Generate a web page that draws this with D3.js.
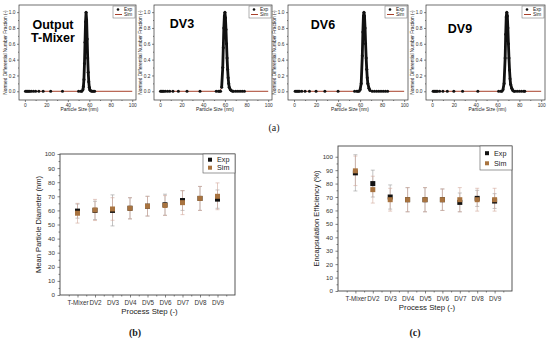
<!DOCTYPE html>
<html>
<head>
<meta charset="utf-8">
<script src="https://cdn.jsdelivr.net/npm/d3@7"></script>
<style>
  body { margin: 0; background: #fff; }
  text { font-family: "Liberation Sans", Arial, sans-serif; fill: #222; }
</style>
</head>
<body>
<svg id="fig" width="550" height="343"></svg>
<script>
// ---- DATA ----
// (a) size distributions, normed differential number fraction
var tmixExpX = [0.5,1.5,2.5,3.5,4.5,6,8,10,13,17,24,35,50,52,53,54,54.5,55,55.5,56,56.5,57,57.5,58,58.5,59,59.5,60,60.5,61,62,63,64,65];
var tmixExpY = [0,0,0,0,0,0,0,0,0,0,0,0,0,0,0,0.02,0.06,0.15,0.35,0.62,0.88,1.0,0.9,0.66,0.42,0.24,0.12,0.05,0.02,0.01,0,0,0,0];
var tmixSimX = [0,50,53,54,55,56,57,58,59,60,61,62,65,100];
var tmixSimY = [0,0,0,0.02,0.15,0.6,1.0,0.68,0.25,0.06,0.01,0,0,0];

var dv3ExpX = [0.5,1.5,2.5,3.5,5,7,9,12,17,25,37,52,54,55,56,57,58,58.5,59,59.5,60,60.5,61,61.5,62,62.5,63,63.5,64,65,66,67,68,70,72,74,76,78];
var dv3ExpY = [0,0,0,0,0,0,0,0,0,0,0,0,0,0,0,0.05,0.3,0.55,0.8,0.95,1.0,0.93,0.78,0.6,0.42,0.28,0.17,0.1,0.05,0.02,0.01,0,0,0,0,0,0,0];
var dv3SimX = [0,55,57,58,59,60,61,62,63,64,65,66,68,100];
var dv3SimY = [0,0,0.04,0.3,0.8,1.0,0.8,0.44,0.18,0.06,0.02,0.01,0,0];

var dv6ExpX = [1,2,3,4,5,7,10,14,20,28,40,55,57,58,59,60,61,62,62.5,63,63.5,64,64.5,65,65.5,66,66.5,67,68,69,71,73,75,77,79,81,83,85];
var dv6ExpY = [0,0,0,0,0,0,0,0,0,0,0,0,0,0,0,0.02,0.1,0.45,0.75,0.95,1.0,0.95,0.8,0.6,0.42,0.28,0.17,0.1,0.04,0.01,0,0,0,0,0,0,0,0];
var dv6SimX = [0,58,60,61,62,63,63.5,64,65,66,67,68,70,100];
var dv6SimY = [0,0,0.02,0.12,0.48,0.95,1.0,0.94,0.6,0.3,0.11,0.04,0,0];

var dv9ExpX = [1,2,3,4,5,7,10,14,20,28,42,61,63,64,65,66,67,67.5,68,68.5,69,69.5,70,70.5,71,71.5,72,73,74,75,76,78,80,82,84,85];
var dv9ExpY = [0,0,0,0,0,0,0,0,0,0,0,0,0,0,0.02,0.1,0.42,0.72,0.94,1.0,0.95,0.8,0.6,0.42,0.27,0.16,0.09,0.04,0.01,0,0,0,0,0,0,0];
var dv9SimX = [0,63,65,66,67,68,68.5,69,70,71,72,73,75,100];
var dv9SimY = [0,0,0.02,0.12,0.46,0.94,1.0,0.94,0.6,0.3,0.12,0.04,0,0];

// (b), (c) process steps
var steps = ["T-Mixer","DV2","DV3","DV4","DV5","DV6","DV7","DV8","DV9"];
var diamExp    = [59.5, 60, 60, 61.5, 63, 64, 67, 68.5, 68];
var diamExpErr = [5, 6.5, 11, 7.5, 7, 7.5, 7, 8.5, 6.5];
var diamSim    = [58, 60.3, 61, 61.5, 63, 63.5, 65.5, 68.5, 70];
var diamSimErr = [7, 7.5, 8, 7.5, 7, 7, 8.5, 8.5, 9.5];

var encExp    = [88, 80, 70, 68, 68, 68, 66, 69, 67];
var encExpErr = [13.5, 10, 9, 9, 9, 8, 7, 6, 5.5];
var encSim    = [89.5, 75.5, 68, 68, 68, 68, 68, 68, 68];
var encSimErr = [11, 10, 8.5, 9, 9, 8, 9, 8.5, 8.5];

var simLineColor = "#a8402a";
var simMarkColor = "#a8733f";

var svg = d3.select("#fig");

function zip(xs, ys) { return xs.map(function(x, i) { return {x: x, y: ys[i]}; }); }

// ---- top row: distributions ----
function drawDist(o) {
  var g = svg.append("g");
  var x = d3.scaleLinear().domain([-5.5, 103.5]).range([o.left, o.right]);
  var y = d3.scaleLinear().domain([-0.11, 1.09]).range([o.bottom, o.top]);

  g.append("g").attr("transform", "translate(0," + o.bottom + ")")
    .call(d3.axisBottom(x).tickValues(d3.range(0, 101, 20)).tickSize(2).tickPadding(1.5))
    .call(styleAxis, 4.8);
  g.append("g").attr("transform", "translate(0," + o.bottom + ")")
    .call(d3.axisBottom(x).tickValues(d3.range(10, 100, 20)).tickSize(1).tickFormat(""))
    .call(styleAxis, 4.8);
  g.append("g").attr("transform", "translate(" + o.left + ",0)")
    .call(d3.axisLeft(y).tickValues(d3.range(0, 1.01, 0.2)).tickSize(2).tickPadding(1.5).tickFormat(d3.format(".1f")))
    .call(styleAxis, 4.8);
  g.append("g").attr("transform", "translate(" + o.left + ",0)")
    .call(d3.axisLeft(y).tickValues(d3.range(0.1, 1, 0.2)).tickSize(1).tickFormat(""))
    .call(styleAxis, 4.8);
  g.append("rect").attr("x", o.left).attr("y", o.top)
    .attr("width", o.right - o.left).attr("height", o.bottom - o.top)
    .attr("fill", "none").attr("stroke", "#333").attr("stroke-width", 0.7);

  g.append("text").attr("x", (o.left + o.right) / 2 + 2).attr("y", o.bottom + 11)
    .attr("text-anchor", "middle").attr("font-size", 4.8).text("Particle Size (nm)");
  g.append("text").attr("transform", "translate(" + (o.left - 12.5) + "," + ((o.top + o.bottom) / 2) + ") rotate(-90)")
    .attr("text-anchor", "middle").attr("font-size", 4.8).text("Normed Differential Number Fraction (-)");

  var sim = zip(o.simX, o.simY);
  var exp = zip(o.expX, o.expY);
  var line = d3.line().x(function(d) { return x(d.x); }).y(function(d) { return y(d.y); });

  g.append("path").datum(sim).attr("d", line)
    .attr("fill", "none").attr("stroke", simLineColor).attr("stroke-width", 1);
  g.append("path").datum(exp).attr("d", line.defined(function(d) { return d.y > 0; }))
    .attr("fill", "none").attr("stroke", "#111").attr("stroke-width", 2.8);
  g.selectAll(".dot").data(exp).enter().append("circle")
    .attr("cx", function(d) { return x(d.x); })
    .attr("cy", function(d) { return y(d.y); })
    .attr("r", 1.5).attr("fill", "#111");

  // legend
  var lx = o.right - 23, ly = o.top + 1;
  g.append("rect").attr("x", lx).attr("y", ly).attr("width", 22).attr("height", 12)
    .attr("fill", "#fff").attr("stroke", "#666").attr("stroke-width", 0.5);
  g.append("circle").attr("cx", lx + 5).attr("cy", ly + 3.5).attr("r", 1.3).attr("fill", "#111");
  g.append("line").attr("x1", lx + 2).attr("x2", lx + 9).attr("y1", ly + 8.5).attr("y2", ly + 8.5)
    .attr("stroke", simLineColor).attr("stroke-width", 1);
  g.append("text").attr("x", lx + 11).attr("y", ly + 5.2).attr("font-size", 4.8).text("Exp");
  g.append("text").attr("x", lx + 11).attr("y", ly + 10.2).attr("font-size", 4.8).text("Sim");

  o.title.forEach(function(t, i) {
    g.append("text").attr("x", o.tx).attr("y", o.ty + i * 13)
      .attr("text-anchor", "middle").attr("font-size", 12.5).attr("font-weight", "bold")
      .style("fill", "#000").text(t);
  });
}

function styleAxis(sel, fs) {
  sel.select(".domain").remove();
  sel.selectAll("line").attr("stroke", "#333").attr("stroke-width", 0.6);
  sel.selectAll("text").attr("font-size", fs).style("fill", "#333");
}

drawDist({left: 19, right: 136, top: 5, bottom: 100, title: ["Output", "T-Mixer"], tx: 53, ty: 29,
  expX: tmixExpX, expY: tmixExpY, simX: tmixSimX, simY: tmixSimY});
drawDist({left: 154, right: 272, top: 5, bottom: 100, title: ["DV3"], tx: 182, ty: 28,
  expX: dv3ExpX, expY: dv3ExpY, simX: dv3SimX, simY: dv3SimY});
drawDist({left: 288, right: 408, top: 5, bottom: 100, title: ["DV6"], tx: 323, ty: 29,
  expX: dv6ExpX, expY: dv6ExpY, simX: dv6SimX, simY: dv6SimY});
drawDist({left: 426, right: 545, top: 5, bottom: 100, title: ["DV9"], tx: 460, ty: 33,
  expX: dv9ExpX, expY: dv9ExpY, simX: dv9SimX, simY: dv9SimY});

svg.append("text").attr("x", 274).attr("y", 131).attr("text-anchor", "middle")
  .attr("font-size", 10).style("font-family", "'Liberation Serif', serif").text("(a)");

// ---- bottom row: process steps ----
function drawSteps(o) {
  var g = svg.append("g");
  var x = d3.scaleLinear().domain([-1, 9]).range([o.left, o.right]);
  var y = d3.scaleLinear().domain([0, o.yMax]).range([o.bottom, o.top]);

  g.append("g").attr("transform", "translate(0," + o.bottom + ")")
    .call(d3.axisBottom(x).tickValues(d3.range(0, 9)).tickSize(2.5).tickPadding(3)
      .tickFormat(function(i) { return steps[i]; }))
    .call(styleAxis, 6.3);
  g.append("g").attr("transform", "translate(0," + o.bottom + ")")
    .call(d3.axisBottom(x).tickValues(d3.range(-0.5, 9, 1)).tickSize(1.5).tickFormat(""))
    .call(styleAxis, 6.3);
  g.append("g").attr("transform", "translate(" + o.left + ",0)")
    .call(d3.axisLeft(y).tickValues(d3.range(0, 101, 10)).tickSize(2.5).tickPadding(2.5))
    .call(styleAxis, 6.2);
  g.append("g").attr("transform", "translate(" + o.left + ",0)")
    .call(d3.axisLeft(y).tickValues(d3.range(5, 100, 10)).tickSize(1.5).tickFormat(""))
    .call(styleAxis, 6.2);
  g.append("rect").attr("x", o.left).attr("y", o.top)
    .attr("width", o.right - o.left).attr("height", o.bottom - o.top)
    .attr("fill", "none").attr("stroke", "#444").attr("stroke-width", 0.9);

  g.append("text").attr("x", (o.left + o.right) / 2 + 2).attr("y", o.bottom + 19)
    .attr("text-anchor", "middle").attr("font-size", 7.8).text("Process Step (-)");
  g.append("text").attr("transform", "translate(" + (o.left - 19) + "," + ((o.top + o.bottom) / 2) + ") rotate(-90)")
    .attr("text-anchor", "middle").attr("font-size", 7.6).text(o.yLabel);

  function errBars(vals, errs, color) {
    var eg = g.append("g").attr("stroke", color).attr("stroke-width", 0.6);
    vals.forEach(function(v, i) {
      var cx = x(i);
      eg.append("line").attr("x1", cx).attr("x2", cx).attr("y1", y(v - errs[i])).attr("y2", y(v + errs[i]));
      [v - errs[i], v + errs[i]].forEach(function(e) {
        eg.append("line").attr("x1", cx - 2).attr("x2", cx + 2).attr("y1", y(e)).attr("y2", y(e));
      });
    });
  }
  errBars(o.exp, o.expErr, "#9a9a9a");
  errBars(o.sim, o.simErr, "#d2a89a");

  function marks(vals, color) {
    g.append("g").selectAll("rect").data(vals).enter().append("rect")
      .attr("x", function(d, i) { return x(i) - 2.5; })
      .attr("y", function(d) { return y(d) - 2.5; })
      .attr("width", 5).attr("height", 5).attr("fill", color);
  }
  marks(o.exp, "#111");
  marks(o.sim, simMarkColor);

  // legend
  var lx = o.right - 32, ly = o.top;
  g.append("rect").attr("x", lx).attr("y", ly).attr("width", 32).attr("height", o.legH)
    .attr("fill", "#fff").attr("stroke", "#555").attr("stroke-width", 0.6);
  g.append("rect").attr("x", lx + 5).attr("y", ly + o.legH * 0.3 - 2).attr("width", 4).attr("height", 4).attr("fill", "#111");
  g.append("rect").attr("x", lx + 5).attr("y", ly + o.legH * 0.72 - 2).attr("width", 4).attr("height", 4).attr("fill", simMarkColor);
  g.append("text").attr("x", lx + 14).attr("y", ly + o.legH * 0.3 + 2.5).attr("font-size", 7.2).text("Exp");
  g.append("text").attr("x", lx + 14).attr("y", ly + o.legH * 0.72 + 2.5).attr("font-size", 7.2).text("Sim");

  g.append("text").attr("x", o.labX).attr("y", 336).attr("text-anchor", "middle")
    .attr("font-size", 10).attr("font-weight", "bold")
    .style("font-family", "'Liberation Serif', serif").text(o.tag);
}

drawSteps({left: 60, right: 235, top: 154, bottom: 295, yMax: 100, legH: 19,
  yLabel: "Mean Particle Diameter (nm)", exp: diamExp, expErr: diamExpErr, sim: diamSim, simErr: diamSimErr,
  tag: "(b)", labX: 135});
drawSteps({left: 338, right: 512, top: 146, bottom: 291, yMax: 108, legH: 24,
  yLabel: "Encapsulation Efficiency (%)", exp: encExp, expErr: encExpErr, sim: encSim, simErr: encSimErr,
  tag: "(c)", labX: 415});
</script>
</body>
</html>
